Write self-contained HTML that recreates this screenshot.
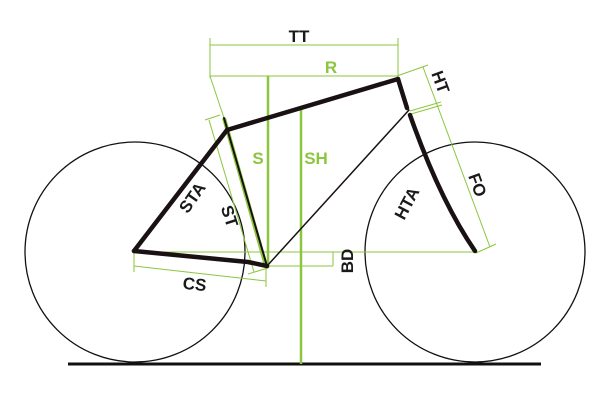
<!DOCTYPE html>
<html><head><style>
html,body{margin:0;padding:0;background:#fff;width:610px;height:407px;overflow:hidden}
text{font-family:"Liberation Sans",sans-serif;font-weight:bold;font-size:17px}
</style></head><body>
<svg width="610" height="407" viewBox="0 0 610 407" xmlns="http://www.w3.org/2000/svg">
<circle cx="135" cy="252" r="110" fill="none" stroke="#111" stroke-width="1.3"/>
<circle cx="475" cy="252" r="110" fill="none" stroke="#111" stroke-width="1.3"/>
<line x1="68" y1="364" x2="541" y2="364" stroke="#111" stroke-width="3"/>
<g stroke="#8cc63f" fill="none" stroke-width="1">
<line x1="210" y1="45" x2="398" y2="45"/>
<line x1="210" y1="38" x2="210" y2="78"/>
<line x1="398" y1="38" x2="398" y2="78"/>
<line x1="210" y1="76" x2="398" y2="76"/>
<line x1="210" y1="76" x2="224" y2="118"/>
<line x1="205" y1="120" x2="220" y2="115"/>
<line x1="209" y1="120" x2="254" y2="272"/>
<line x1="248" y1="274" x2="268" y2="268"/>
<line x1="134" y1="252" x2="475" y2="252"/>
<line x1="267" y1="266" x2="333" y2="266"/>
<line x1="333" y1="252" x2="333" y2="266"/>
<line x1="134" y1="266" x2="266" y2="281"/>
<line x1="134" y1="252" x2="134" y2="272"/>
<line x1="266" y1="262" x2="266" y2="287"/>
<line x1="423" y1="67" x2="490" y2="247"/>
<line x1="397" y1="76" x2="428" y2="65"/>
<line x1="410" y1="111" x2="441" y2="102"/>
<line x1="411" y1="114" x2="442" y2="105"/>
<line x1="476" y1="253" x2="496" y2="244"/>
</g>
<g stroke="#8cc63f" stroke-width="2.5">
<line x1="268" y1="76" x2="268" y2="268"/>
<line x1="301" y1="108" x2="301" y2="364"/>
</g>
<line x1="224" y1="118" x2="266" y2="266" stroke="#8cc63f" stroke-width="4"/>
<g stroke="#1a1212" fill="none" stroke-linecap="round">
<line x1="224" y1="118" x2="267" y2="266" stroke-width="2"/>
<line x1="227" y1="130" x2="398" y2="79" stroke-width="4.5"/>
<line x1="227" y1="130" x2="134" y2="251" stroke-width="4.5"/>
<polyline points="134,251 248,262 267,266" stroke-width="4.5"/>
<line x1="267" y1="266" x2="409" y2="110" stroke-width="1.5"/>
<line x1="398" y1="79" x2="407" y2="108" stroke-width="4.5"/>
<path d="M410,115 Q440,200 475,251" stroke-width="4.5"/>
</g>
<g fill="#1a1a1a">
<text x="299" y="42" text-anchor="middle">TT</text>
<text transform="translate(197,201) rotate(-55)" text-anchor="middle">STA</text>
<text transform="translate(224,218) rotate(72)" text-anchor="middle">ST</text>
<text transform="translate(194,290) rotate(6)" text-anchor="middle">CS</text>
<text transform="translate(353,261) rotate(-90)" text-anchor="middle">BD</text>
<text transform="translate(412,206) rotate(-62)" text-anchor="middle">HTA</text>
<text transform="translate(472,187) rotate(70)" text-anchor="middle">FO</text>
<text transform="translate(435,84) rotate(70)" text-anchor="middle">HT</text>
</g>
<g fill="#8cc63f">
<text x="331" y="73" text-anchor="middle">R</text>
<text x="258" y="164" text-anchor="middle">S</text>
<text x="316" y="164" text-anchor="middle">SH</text>
</g>
</svg>
</body></html>
